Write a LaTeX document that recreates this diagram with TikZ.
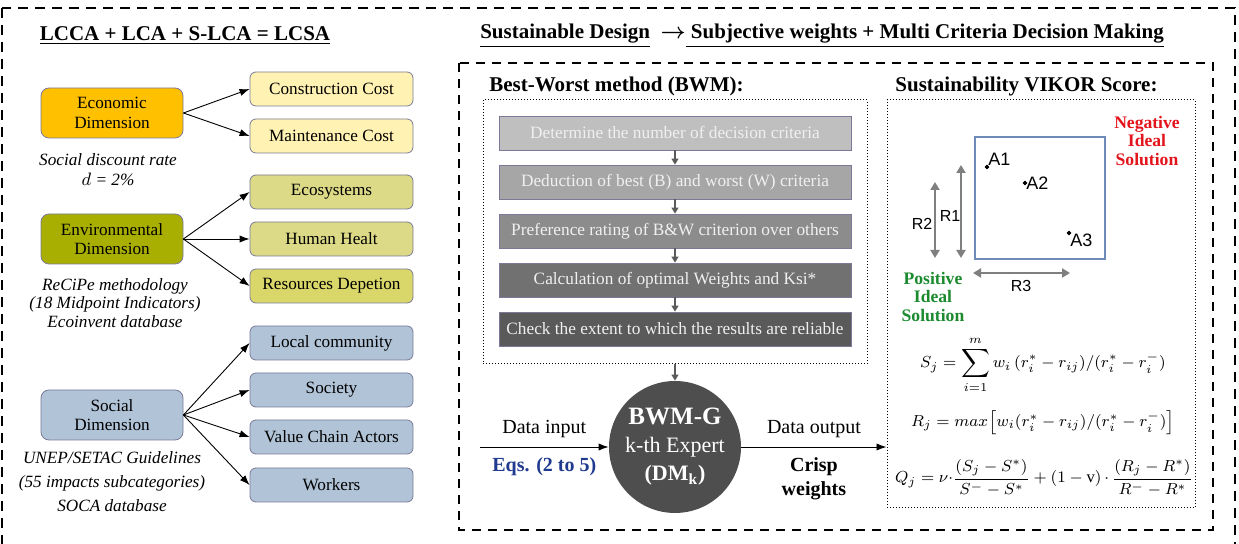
\documentclass[tikz,border=0pt]{standalone}
\usepackage{fontspec}
\setmainfont{Liberation Serif}
\newfontfamily\arialfont{Liberation Sans}
\usetikzlibrary{arrows.meta}

\definecolor{boxline}{HTML}{7A7A98}
\definecolor{econfill}{HTML}{FFC000}
\definecolor{econsub}{HTML}{FFF2B3}
\definecolor{envfill}{HTML}{A9AF00}
\definecolor{envsub}{HTML}{DCDA86}
\definecolor{envsubb}{HTML}{DAD76A}
\definecolor{socfill}{HTML}{B0C3D7}
\definecolor{stepa}{HTML}{BFBFBF}
\definecolor{stepb}{HTML}{A6A6A6}
\definecolor{stepc}{HTML}{8C8C8C}
\definecolor{stepd}{HTML}{717171}
\definecolor{stepe}{HTML}{5A5A5A}
\definecolor{expertfill}{HTML}{4E4E4E}
\definecolor{eqblue}{HTML}{1F3A8F}
\definecolor{negred}{HTML}{E3141B}
\definecolor{posgreen}{HTML}{1C8A2E}
\definecolor{squareblue}{HTML}{6E8BB8}
\definecolor{rgray}{HTML}{7F7F7F}

\tikzset{
  title/.style={font=\fontsize{10.5}{12}\selectfont\bfseries, inner sep=0pt},
  dimbox/.style={draw=boxline, rounded corners=4pt, minimum width=71pt, minimum height=25pt,
    align=center, inner sep=1pt, font=\fontsize{8.6}{9.8}\selectfont},
  subbox/.style={draw=boxline, rounded corners=3pt, minimum width=81.5pt, minimum height=17pt,
    inner sep=1pt, font=\fontsize{8.6}{9.8}\selectfont},
  note/.style={align=center, inner sep=0pt, font=\fontsize{8.6}{10}\selectfont\itshape},
  stepbox/.style={draw=boxline, minimum width=176pt, minimum height=17pt, inner sep=1pt,
    text=white!94!black, font=\fontsize{8.65}{10}\selectfont},
  link/.style={-{Latex[length=5pt,width=3.6pt]}, line width=0.45pt},
  steplink/.style={-{Triangle[length=3pt,width=3.5pt]}, draw=stepe, line width=0.6pt},
  rarrow/.style={{Triangle[length=4pt,width=4.5pt]}-{Triangle[length=4pt,width=4.5pt]},
    draw=rgray, line width=1pt},
  rlabel/.style={inner sep=0pt, font=\arialfont\fontsize{8}{9}\selectfont},
  alabel/.style={inner sep=0.5pt, font=\arialfont\fontsize{9}{10}\selectfont},
  ideal/.style={align=center, inner sep=0pt, font=\fontsize{8.8}{9.3}\selectfont\bfseries},
  formula/.style={inner sep=0pt, font=\fontsize{8.3}{10}\selectfont},
}

\begin{document}
\begin{tikzpicture}[x=0.5pt,y=-0.5pt]
  % Frame
  \useasboundingbox (0,0) rectangle (1239,544);
  \draw[line width=1pt, dash pattern=on 5pt off 3.5pt] (2,8) rectangle (1235,590);

  % Titles
  \node[title] (lcsa) at (185,36) {\underline{LCCA + LCA + S-LCA = LCSA}};
  \node[title] (mcdm) at (822,36) {\underline{Sustainable Design}\ \ {\boldmath$\rightarrow$}\underline{ Subjective weights + Multi Criteria Decision Making}};

  % Economic dimension
  \node[dimbox, fill=econfill] (econ) at (112,113) {Economic\\Dimension};
  \node[subbox, fill=econsub] (constr) at (331.5,89) {Construction Cost};
  \node[subbox, fill=econsub] (maint) at (331.5,136) {Maintenance Cost};
  \node[note] (econnote) at (108,170) {Social discount rate\\$d$ = 2\%};

  % Environmental dimension
  \node[dimbox, fill=envfill] (env) at (112,239) {Environmental\\Dimension};
  \node[subbox, fill=envsub] (eco) at (331.5,192) {Ecosystems};
  \node[subbox, fill=envsub] (human) at (331.5,239) {Human Healt};
  \node[subbox, fill=envsubb] (resour) at (331.5,286) {Resources Depetion};
  \node[note, font=\fontsize{8.6}{9.4}\selectfont\itshape] (envnote) at (115,303) {ReCiPe methodology\\(18 Midpoint Indicators)\\Ecoinvent database};

  % Social dimension
  \node[dimbox, fill=socfill] (soc) at (112,415) {Social\\Dimension};
  \node[subbox, fill=socfill] (local) at (331.5,343) {Local community};
  \node[subbox, fill=socfill] (society) at (331.5,390) {Society};
  \node[subbox, fill=socfill] (value) at (331.5,437) {Value Chain Actors};
  \node[subbox, fill=socfill] (workers) at (331.5,485) {Workers};
  \node[note, font=\fontsize{8.6}{12}\selectfont\itshape] (socnote) at (112,482) {UNEP/SETAC Guidelines\\(55 impacts subcategories)\\SOCA database};

  % Links of the dimensions
  \draw[link] (econ.east) -- (constr.west);
  \draw[link] (econ.east) -- (maint.west);
  \draw[link] (env.east) -- (eco.west);
  \draw[link] (env.east) -- (human.west);
  \draw[link] (env.east) -- (resour.west);
  \draw[link] (soc.east) -- (local.west);
  \draw[link] (soc.east) -- (society.west);
  \draw[link] (soc.east) -- (value.west);
  \draw[link] (soc.east) -- (workers.west);

  % MCDM frame
  \draw[line width=0.6pt, dash pattern=on 4.5pt off 3.5pt] (459,63) rectangle (1213,530);

  % Best-Worst method
  \node[title, anchor=west] (bwmtitle) at (489,86) {Best-Worst method (BWM):};
  \node[draw, densely dotted, line width=0.5pt, minimum width=192pt, minimum height=132pt] (bwmframe) at (675,232) {};
  \node[stepbox, fill=stepa] (stepA) at (675,133) {Determine the number of decision criteria};
  \node[stepbox, fill=stepb] (stepB) at (675,182) {Deduction of best (B) and worst (W) criteria};
  \node[stepbox, fill=stepc] (stepC) at (675,231) {Preference rating of B\&W criterion over others};
  \node[stepbox, fill=stepd] (stepD) at (675,280) {Calculation of optimal Weights and Ksi*};
  \node[stepbox, fill=stepe] (stepE) at (675,329) {Check the extent to which the results are reliable};
  \draw[steplink] (stepA) -- (stepB);
  \draw[steplink] (stepB) -- (stepC);
  \draw[steplink] (stepC) -- (stepD);
  \draw[steplink] (stepD) -- (stepE);

  % Expert
  \node[circle, fill=expertfill, minimum size=66pt, inner sep=0pt, text=white, align=center,
    font=\fontsize{11}{14}\selectfont] (dm) at (675,447)
    {{\fontsize{12.5}{14}\selectfont\bfseries BWM-G}\\k-th Expert\\\textbf{(DM$_{\mathbf{k}}$)}};
  \draw[steplink] (bwmframe.south) -- (dm.north);

  % Data in and out
  \coordinate (datain) at (480,447);
  \draw[link] (datain) -- node[above=1pt, font=\fontsize{10}{12}\selectfont] (inlabel) {Data input}
    node[below=2pt, text=eqblue, font=\fontsize{10}{12}\selectfont\bfseries] (eqlabel) {Eqs. (2 to 5)} (dm.west);

  % VIKOR
  \node[title, anchor=west] (vikortitle) at (895,86) {Sustainability VIKOR Score:};
  \node[draw, densely dotted, line width=0.5pt, minimum width=154pt, minimum height=204pt] (vikorframe) at (1041,304) {};
  \draw[link] (dm.east) -- node[above=1pt, font=\fontsize{10}{12}\selectfont] (outlabel) {Data output}
    node[below=2pt, align=center, font=\fontsize{10}{12}\selectfont\bfseries] (crisp) {Crisp\\weights} (dm.east -| vikorframe.west);

  \draw[squareblue, line width=0.6pt] (975,137) rectangle (1105,259);
  \node[ideal, text=negred] (negative) at (1147,141) {Negative\\Ideal\\Solution};
  \node[ideal, text=posgreen] (positive) at (933,297) {Positive\\Ideal\\Solution};

  % Alternatives
  \coordinate (A1) at (987,167);
  \coordinate (A2) at (1025,183);
  \coordinate (A3) at (1069,233);
  \filldraw (A1) circle (1.8) node[alabel, anchor=south west] (a1label) {A1};
  \filldraw (A2) circle (1.8) node[alabel, anchor=west] (a2label) {A2};
  \filldraw (A3) circle (1.8) node[alabel, anchor=north west] (a3label) {A3};

  % Distances
  \coordinate (R2top) at (935,182);
  \coordinate (R2bot) at (935,258);
  \coordinate (R1top) at (961,165);
  \coordinate (R1bot) at (961,258);
  \coordinate (R3left) at (973,273);
  \coordinate (R3right) at (1070,273);
  \draw[rarrow] (R2top) -- (R2bot);
  \draw[rarrow] (R1top) -- (R1bot);
  \draw[rarrow] (R3left) -- (R3right);
  \node[rlabel] (r2label) at (922,224) {R2};
  \node[rlabel] (r1label) at (950,216) {R1};
  \node[rlabel] (r3label) at (1021,286) {R3};

  % Formulas
  \node[formula] (sj) at (1043,365) {$\displaystyle S_j=\sum_{i=1}^{m} w_i\,(r_i^*-r_{ij})/(r_i^*-r_i^-)$};
  \node[formula] (rj) at (1043,422) {$R_j = max\big[w_i(r_i^*-r_{ij})/(r_i^*-r_i^-)\big]$};
  \node[formula] (qj) at (1044,478) {$\displaystyle Q_j=\nu{\cdot}\frac{(S_j-S^*)}{S^- - S^*}+(1-\mathrm{v})\,{\cdot}\,\frac{(R_j-R^*)}{R^- - R^*}$};
\end{tikzpicture}
\end{document}
